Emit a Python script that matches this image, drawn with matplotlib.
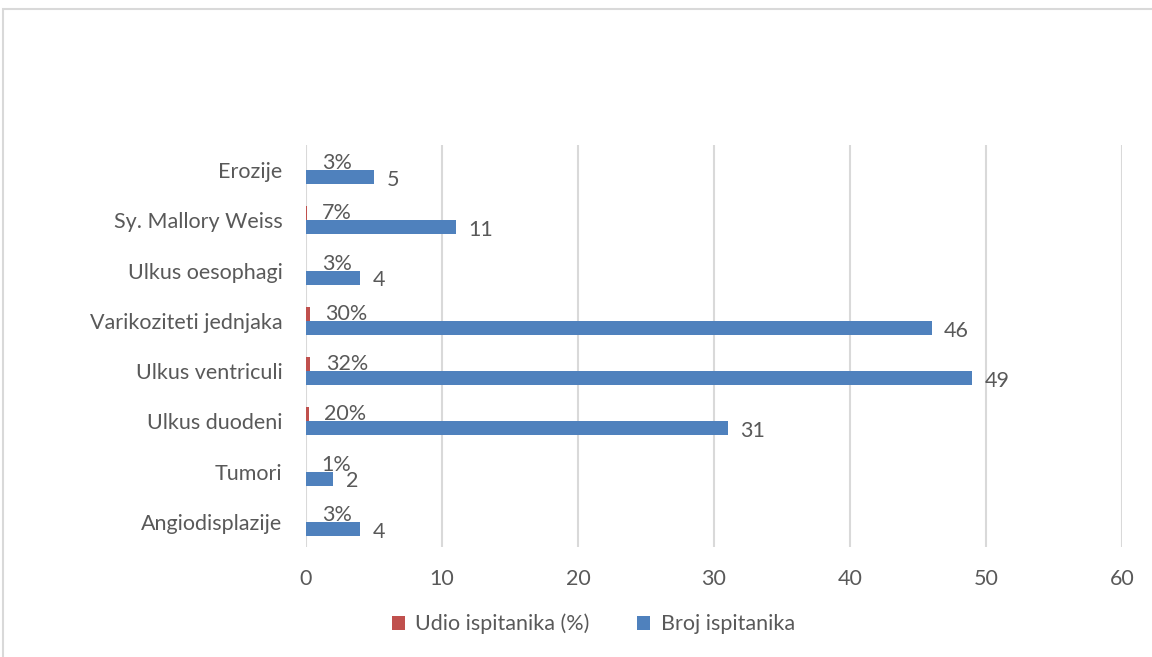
import matplotlib.pyplot as plt
from matplotlib.patches import Rectangle

# data (bottom to top, as drawn)
categories = ["Angiodisplazije", "Tumori", "Ulkus duodeni", "Ulkus ventriculi",
              "Varikoziteti jednjaka", "Ulkus oesophagi", "Sy. Mallory Weiss", "Erozije"]
broj = [4, 2, 31, 49, 46, 4, 11, 5]
udio = [0.03, 0.01, 0.20, 0.32, 0.30, 0.03, 0.07, 0.03]
udio_labels = ["3%", "1%", "20%", "32%", "30%", "3%", "7%", "3%"]
xticks = [0, 10, 20, 30, 40, 50, 60]

plt.rcParams['font.family'] = ['Lato', 'DejaVu Sans']
txt = "#595959"
blue = "#4f81bd"
red = "#c0504d"

fig = plt.figure(figsize=(11.52, 6.57), dpi=100)
fig.patches.append(Rectangle((3 / 1152, -0.01), 1.0, 1 - 9 / 657 + 0.01,
                             transform=fig.transFigure, fill=False,
                             edgecolor="#d9d9d9", linewidth=1.5))
ax = fig.add_axes([306 / 1152, 1 - 547 / 657, (1122 - 306) / 1152, (547 - 145) / 657])

h = 0.28
ypos = list(range(len(categories)))
yb = [y - h / 2 for y in ypos]
yr = [y + h / 2 for y in ypos]
ax.barh(yr, udio, height=h, color=red, label="Udio ispitanika (%)", zorder=3)
ax.barh(yb, broj, height=h, color=blue, label="Broj ispitanika", zorder=3)

for y, v, s in zip(yr, udio, udio_labels):
    ax.annotate(s, (v, y), xytext=(11, 0), textcoords="offset points",
                ha="left", va="center", fontsize=15.5, color=txt, zorder=4)
for y, v in zip(yb, broj):
    ax.annotate(str(v), (v, y), xytext=(9, -2), textcoords="offset points",
                ha="left", va="center", fontsize=15.5, color=txt, zorder=4)

ax.set_xlim(0, 60)
ax.set_ylim(-0.5, len(categories) - 0.5)
ax.set_xticks(xticks)
ax.set_yticks(ypos)
ax.set_yticklabels(categories)
ax.tick_params(axis="both", length=0, colors=txt, labelsize=15.5)
ax.tick_params(axis="x", pad=16)
ax.tick_params(axis="y", pad=17)
ax.grid(axis="x", color="#d9d9d9", linewidth=1.5, zorder=0)
for sp in ax.spines.values():
    sp.set_visible(False)

handles, labels = ax.get_legend_handles_labels()
fig.legend(handles, labels, loc="center", bbox_to_anchor=(0.515, 1 - 624 / 657), ncol=2,
           frameon=False, fontsize=15.5, labelcolor=txt, handlelength=0.6,
           handleheight=0.6, columnspacing=2.2, handletextpad=0.5)

fig.savefig("out.png", dpi=100)
